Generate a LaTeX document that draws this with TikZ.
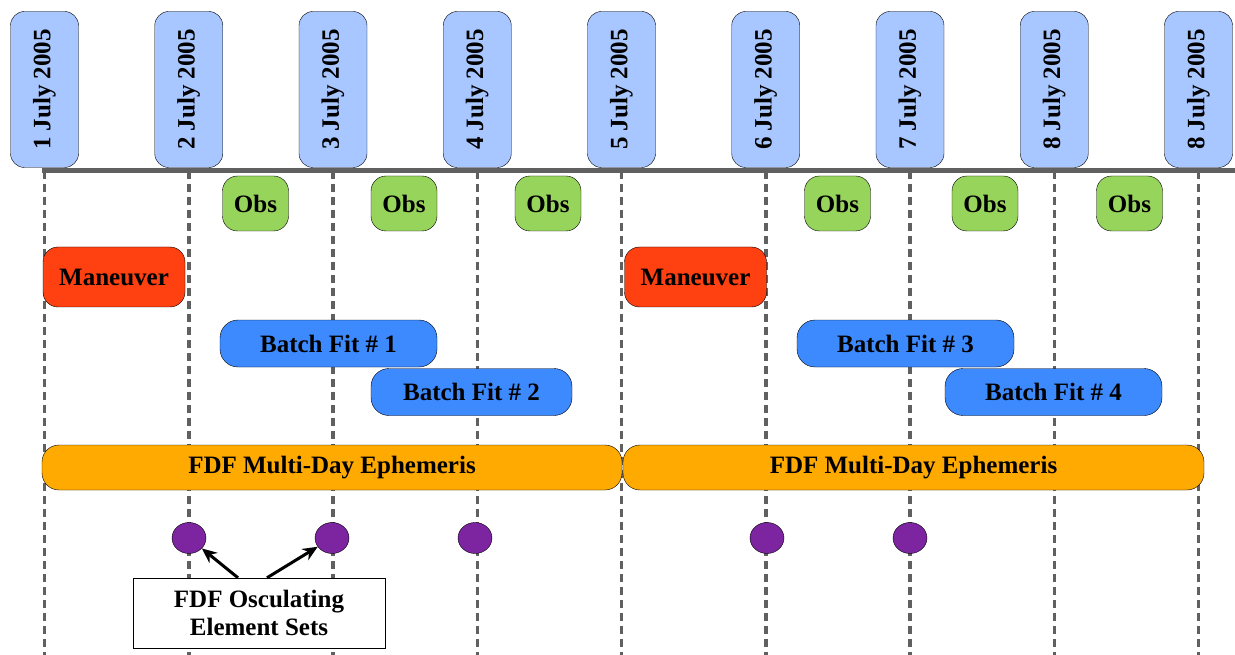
\documentclass[tikz,border=0pt]{standalone}
\usepackage{fontspec}
\setmainfont{Liberation Serif}
\usetikzlibrary{shapes.geometric,arrows.meta}
\definecolor{dateblue}{RGB}{168,198,255}
\definecolor{obsgreen}{RGB}{150,212,92}
\definecolor{mangred}{RGB}{255,64,16}
\definecolor{batchblue}{RGB}{61,138,255}
\definecolor{ephorange}{RGB}{255,170,0}
\definecolor{oespurple}{RGB}{125,36,160}
\definecolor{linegray}{RGB}{96,96,96}
\begin{document}
\begin{tikzpicture}[x=1pt, y=-1pt,
    every node/.style ={font=\bfseries\fontsize{25}{28}\selectfont},
    date/.style ={draw, fill=dateblue, rounded corners=14pt, rotate=90, minimum width=156pt, minimum height=68pt, inner sep=0pt},
    obs/.style ={draw, fill=obsgreen, rounded corners=15pt, minimum width=66pt, minimum height=55pt, inner sep=0pt},
    maneuver/.style ={draw, fill=mangred, rounded corners=15pt, minimum width=142pt, minimum height=60pt, inner sep=0pt},
    batch/.style ={draw, fill=batchblue, rounded corners=18pt, minimum width=217pt, minimum height=47pt, inner sep=0pt},
    ephem/.style ={draw, fill=ephorange, rounded corners=17pt, minimum width=580pt, minimum height=45pt, inner sep=0pt},
    oes/.style ={ellipse, draw, fill=oespurple, minimum width=34pt, minimum height=31pt, inner sep=0pt},
    note/.style ={draw, fill=white, minimum width=252pt, minimum height=70pt, align=center, inner sep=0pt},
    dayline/.style ={draw=linegray, line width=3.5pt, dash pattern=on 8pt off 5pt}]
   \useasboundingbox (0,0) rectangle (1235,655);

   % day lines, top and bottom ends
   \coordinate (t1) at (44.5,171);   \coordinate (b1) at (44.5,655);
   \coordinate (t2) at (188.75,171); \coordinate (b2) at (188.75,655);
   \coordinate (t3) at (333,171);    \coordinate (b3) at (333,655);
   \coordinate (t4) at (477.25,171); \coordinate (b4) at (477.25,655);
   \coordinate (t5) at (621.5,171);  \coordinate (b5) at (621.5,655);
   \coordinate (t6) at (765.75,171); \coordinate (b6) at (765.75,655);
   \coordinate (t7) at (910,171);    \coordinate (b7) at (910,655);
   \coordinate (t8) at (1054.25,171);\coordinate (b8) at (1054.25,655);
   \coordinate (t9) at (1198.5,171); \coordinate (b9) at (1198.5,655);
   \coordinate (tend) at (1235,171);

   \draw[dayline] (t1) -- (b1);
   \draw[dayline] (t2) -- (b2);
   \draw[dayline] (t3) -- (b3);
   \draw[dayline] (t4) -- (b4);
   \draw[dayline] (t5) -- (b5);
   \draw[dayline] (t6) -- (b6);
   \draw[dayline] (t7) -- (b7);
   \draw[dayline] (t8) -- (b8);
   \draw[dayline] (t9) -- (b9);
   \draw[linegray, line width=5pt] ([xshift=-2.5pt]t1) -- (tend);

   % dates
   \node[date] (D1) at (44.5,89.5)   {1 July 2005};
   \node[date] (D2) at (188.75,89.5) {2 July 2005};
   \node[date] (D3) at (333,89.5)    {3 July 2005};
   \node[date] (D4) at (477.25,89.5) {4 July 2005};
   \node[date] (D5) at (621.5,89.5)  {5 July 2005};
   \node[date] (D6) at (765.75,89.5) {6 July 2005};
   \node[date] (D7) at (910,89.5)    {7 July 2005};
   \node[date] (D8) at (1054.25,89.5){8 July 2005};
   \node[date] (D9) at (1198.5,89.5) {8 July 2005};

   % observations
   \node[obs] (O1) at (255.5,203.5)  {Obs};
   \node[obs] (O2) at (404,203.5)    {Obs};
   \node[obs] (O3) at (548,203.5)    {Obs};
   \node[obs] (O4) at (837.5,203.5)  {Obs};
   \node[obs] (O5) at (985,203.5)    {Obs};
   \node[obs] (O6) at (1129.5,203.5) {Obs};

   % maneuvers
   \node[maneuver] (M1) at (114,277)   {Maneuver};
   \node[maneuver] (M2) at (695.5,277) {Maneuver};

   % batch fits
   \node[batch] (B1) at (328.5,343.5)  {Batch Fit \# 1};
   \node[batch, minimum width=201pt] (B2) at (471.5,392) {Batch Fit \# 2};
   \node[batch] (B3) at (905.5,343.5)  {Batch Fit \# 3};
   \node[batch] (B4) at (1053.5,392)   {Batch Fit \# 4};

   % ephemerides
   \node[ephem] (E1) at (332,467.5)   {FDF Multi-Day Ephemeris};
   \node[ephem, minimum width=581pt] (E2) at (913.5,467.5) {FDF Multi-Day Ephemeris};

   % osculating element sets
   \node[oes] (S1) at (189,538) {};
   \node[oes] (S2) at (332,538) {};
   \node[oes] (S3) at (475,538) {};
   \node[oes] (S4) at (767,538) {};
   \node[oes] (S5) at (910,538) {};

   \node[note] (N) at (259,613) {FDF Osculating\\Element Sets};
   \draw[line width=3pt, -{Stealth[length=15pt,width=13pt]}] ([xshift=-21pt]N.north) -- (S1);
   \draw[line width=3pt, -{Stealth[length=15pt,width=13pt]}] ([xshift=8pt]N.north) -- (S2);
 \end{tikzpicture}
\end{document}
